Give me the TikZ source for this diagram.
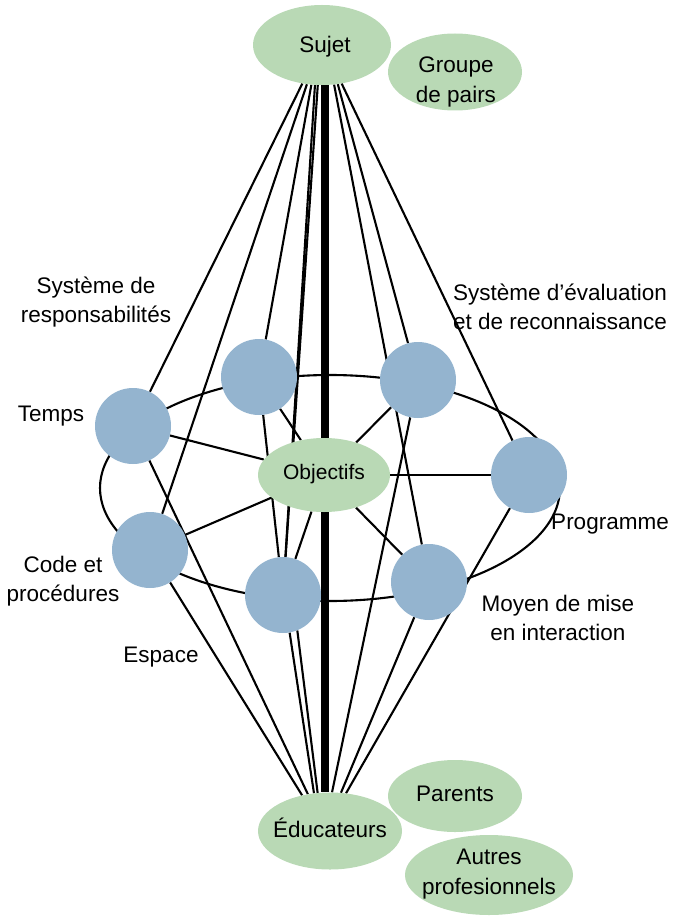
\documentclass[tikz,border=0pt]{standalone}
\usepackage{fontspec}
\setmainfont{Liberation Sans}
\usetikzlibrary{shapes.geometric,backgrounds}
\definecolor{nodeblue}{RGB}{148,180,207}
\definecolor{nodegreen}{RGB}{185,217,181}
\begin{document}
\begin{tikzpicture}[x=1pt,y=-1pt,
  txt/.style={font=\fontsize{22.5}{29.5}\selectfont, align=center, inner sep=0pt},
  gell/.style={ellipse, fill=nodegreen, inner sep=0pt},
  bcirc/.style={circle, fill=nodeblue, minimum size=76pt, inner sep=0pt},
  conn/.style={line width=2.1pt, black},
  axisline/.style={line width=8pt, black}]
\useasboundingbox (0,0) rectangle (674,917);

% green ellipses
\node[gell, minimum width=138pt, minimum height=80pt] (sujet) at (322,45) {};
\node[txt] (sujett) at (325,47) {Sujet};
\node[gell, minimum width=134pt, minimum height=77pt] (groupe) at (455,72) {};
\node[txt] (groupet) at (456,82) {Groupe\\de pairs};
\node[gell, minimum width=132pt, minimum height=74pt] (obj) at (324,475) {};
\node[txt, font=\fontsize{21}{26}\selectfont] (objt) at (324,474) {Objectifs};
\node[gell, minimum width=144pt, minimum height=77pt] (educ) at (330,831) {};
\node[txt] (educt) at (330,828) {Éducateurs};
\node[gell, minimum width=134pt, minimum height=72pt] (parents) at (455,796) {};
\node[txt] (parentst) at (455,794) {Parents};
\node[gell, minimum width=168pt, minimum height=80pt] (autres) at (489,875) {};
\node[txt] (autrest) at (489,874) {Autres\\profesionnels};

% blue circles
\node[bcirc] (temps) at (133,426) {};
\node[bcirc] (ul) at (259,377) {};
\node[bcirc] (tr) at (418,380) {};
\node[bcirc] (prog) at (529,475) {};
\node[bcirc] (br) at (429,582) {};
\node[bcirc] (bl) at (283,595) {};
\node[bcirc] (code) at (150,550) {};

% labels
\node[txt] (lresp) at (96,302) {Système de\\responsabilités};
\node[txt] (leval) at (560,307) {Système d’évaluation\\et de reconnaissance};
\node[txt] (ltemps) at (51,416) {Temps};
\node[txt] (lcode) at (63,581) {Code et\\procédures};
\node[txt] (lespace) at (161,657) {Espace};
\node[txt] (lprog) at (610,524) {Programme};
\node[txt] (lmoyen) at (558,618) {Moyen de mise\\en interaction};

\coordinate (axx) at (325,0);

\begin{pgfonlayer}{background}
  \node[draw, ellipse, conn, minimum width=460pt, minimum height=226pt, inner sep=0pt] (ring) at (330,488) {};
  \draw[axisline] (sujet.south -| axx) -- (educ.north -| axx);
  % from Sujet
  \draw[conn] (sujet.243) -- (temps);
  \draw[conn] (sujet.249) -- (code);
  \draw[conn] (sujet.255) -- (ul);
  \draw[conn] (sujet.260) -- (bl);
  \draw[conn] (sujet.264) -- (bl);
  \draw[conn] (sujet.287) -- (br);
  \draw[conn] (sujet.292) -- (tr);
  \draw[conn] (sujet.297) -- (prog);
  % to Educateurs
  \draw[conn] (educ.128) -- (code);
  \draw[conn] (educ.121) -- (temps);
  \draw[conn] (educ.113) -- (bl.280);
  \draw[conn] (educ.108) -- (bl.292);
  \draw[conn] (educ.87) -- (tr);
  \draw[conn] (educ.74) -- (br);
  \draw[conn] (educ.67) -- (prog);
  % others
  \draw[conn] (ul) -- (bl);
  \foreach \n in {temps,code,ul,bl,tr,prog,br} \draw[conn] (obj) -- (\n);
\end{pgfonlayer}
\end{tikzpicture}
\end{document}
